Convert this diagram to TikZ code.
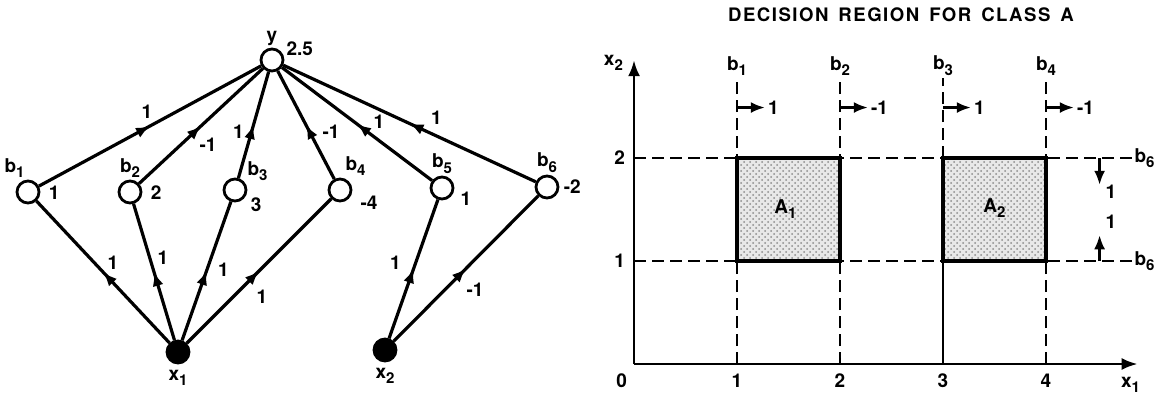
\documentclass[tikz,border=0pt]{standalone}
\usepackage{fontspec}
\setmainfont{TeX Gyre Heros}
\usetikzlibrary{arrows.meta,decorations.markings,patterns}
\newcommand\lidx[1]{\raisebox{-0.5ex}{\fontsize{7.5}{8}\selectfont #1}}
\tikzset{
  lbl/.style={font=\bfseries\fontsize{9.5}{11}\selectfont, inner sep=1pt},
  unit/.style={circle, draw, line width=1.4pt, fill=white, minimum size=11pt, inner sep=0pt},
  inunit/.style={unit, fill=black},
  wire/.style={line width=1.6pt, postaction={decorate}, decoration={markings, mark=at position 0.5 with {\arrow{Latex[length=7pt,width=5.5pt]}}}},
  bound/.style={line width=1.1pt, dash pattern=on 6pt off 3pt},
  axis/.style={line width=1.4pt, -{Latex[length=8pt,width=6pt]}},
  region/.style={fill=black!9, postaction={pattern=crosshatch dots, pattern color=black!45}},
  sense/.style={line width=1.2pt, -{Latex[length=7pt,width=5.5pt]}}
}
\begin{document}
\begin{tikzpicture}[x=0.5pt, y=-0.5pt]
  \useasboundingbox (0,0) rectangle (1160,396);
  % network
  \node[unit, label={[lbl]above:y}, label={[lbl]10:2.5}] (y) at (272,60) {};
  \node[unit, label={[lbl]95:b\lidx1}, label={[lbl,label distance=3pt]-2:1}] (b1) at (28,192) {};
  \node[unit, label={[lbl]90:b\lidx2}, label={[lbl,label distance=3pt]-2:2}] (b2) at (130,192) {};
  \node[unit, label={[lbl]35:b\lidx3}, label={[lbl,label distance=1pt]-20:3}] (b3) at (235,190) {};
  \node[unit, label={[lbl]75:b\lidx4}, label={[lbl,label distance=3pt]-10:-4}] (b4) at (340,190) {};
  \node[unit, label={[lbl]90:b\lidx5}, label={[lbl,label distance=2pt]-5:1}] (b5) at (442,188) {};
  \node[unit, label={[lbl]90:b\lidx6}, label={[lbl,label distance=1pt]0:-2}] (b6) at (547,187) {};
  \node[inunit, label={[lbl,label distance=1.5pt]below:x\lidx1}] (x1) at (178,352) {};
  \node[inunit, label={[lbl,label distance=1.5pt]below:x\lidx2}] (x2) at (385,350) {};
  \draw[wire] (b1) -- node[lbl, shift={(-3,-14)}] {1} (y);
  \draw[wire] (b2) -- node[lbl, shift={(7,19)}] {-1} (y);
  \draw[wire] (b3) -- node[lbl, shift={(-15,7)}] {1} (y);
  \draw[wire] (b4) -- node[lbl, shift={(25,7)}] {-1} (y);
  \draw[wire] (b5) -- node[lbl, shift={(22,-2)}] {1} (y);
  \draw[wire] (b6) -- node[lbl, shift={(27,-6)}] {1} (y);
  \draw[wire] (x1) -- node[lbl, shift={(10,-9)}] {1} (b1);
  \draw[wire] (x1) -- node[lbl, shift={(9,-14)}] {1} (b2);
  \draw[wire] (x1) -- node[lbl, shift={(17,-1)}] {1} (b3);
  \draw[wire] (x1) -- node[lbl, shift={(3,26)}] {1} (b4);
  \draw[wire] (x2) -- node[lbl, shift={(-18,-6)}] {1} (b5);
  \draw[wire] (x2) -- node[lbl, shift={(9,21)}] {-1} (b6);
  % decision region
  \node[lbl, font=\bfseries\fontsize{9.3}{11}\selectfont\addfontfeatures{LetterSpace=8}] (title) at (901,15)
    {DECISION\hspace{5pt}REGION\hspace{5pt}FOR\hspace{5pt}CLASS\hspace{5pt}A};
  \begin{scope}[shift={(634,364)}, x=51.5pt, y=51.5pt]
    \fill[region] (1,1) rectangle (2,2);
    \fill[region] (3,1) rectangle (4,2);
    \foreach \i in {1,2,4}
      \draw[bound] (\i,0) -- (\i,2.78);
    \draw[bound] (3,2) -- (3,2.78);
    \draw[line width=1.2pt] (3,0) -- (3,1);
    \foreach \j in {1,2}
      \draw[bound] (0,\j) -- (4.83,\j) node[lbl, right] (h\j) {b\lidx6};
    \draw[line width=1.8pt] (1,1) rectangle (2,2) (3,1) rectangle (4,2);
    \draw[axis] (0,0) -- (4.89,0);
    \draw[axis] (0,0) -- (0,2.95);
    \node[lbl] (xlab) at (4.82,-0.2) {x\lidx1};
    \node[lbl] (ylab) at (-0.2,2.92) {x\lidx2};
    \node[lbl] (t0) at (-0.12,-0.16) {0};
    \foreach \i in {1,...,4}
      \node[lbl] (t\i) at (\i,-0.16) {\i};
    \foreach \j in {1,2}
      \node[lbl] (s\j) at (-0.14,\j) {\j};
    \foreach \i/\w in {1/1,2/-1,3/1,4/-1} {
      \node[lbl, above] (v\i) at (\i,2.78) {b\lidx\i};
      \draw[sense] (\i,2.49) -- ++(0.27,0) node[lbl, right] (w\i) {\w};
    }
    \draw[sense] (4.52,2) -- (4.52,1.74);
    \node[lbl] (w5) at (4.63,1.67) {1};
    \draw[sense] (4.52,1) -- (4.52,1.25);
    \node[lbl] (w6) at (4.63,1.38) {1};
    \node[lbl] (A1) at (1.47,1.5) {A\lidx1};
    \node[lbl] (A2) at (3.5,1.51) {A\lidx2};
  \end{scope}
\end{tikzpicture}
\end{document}
